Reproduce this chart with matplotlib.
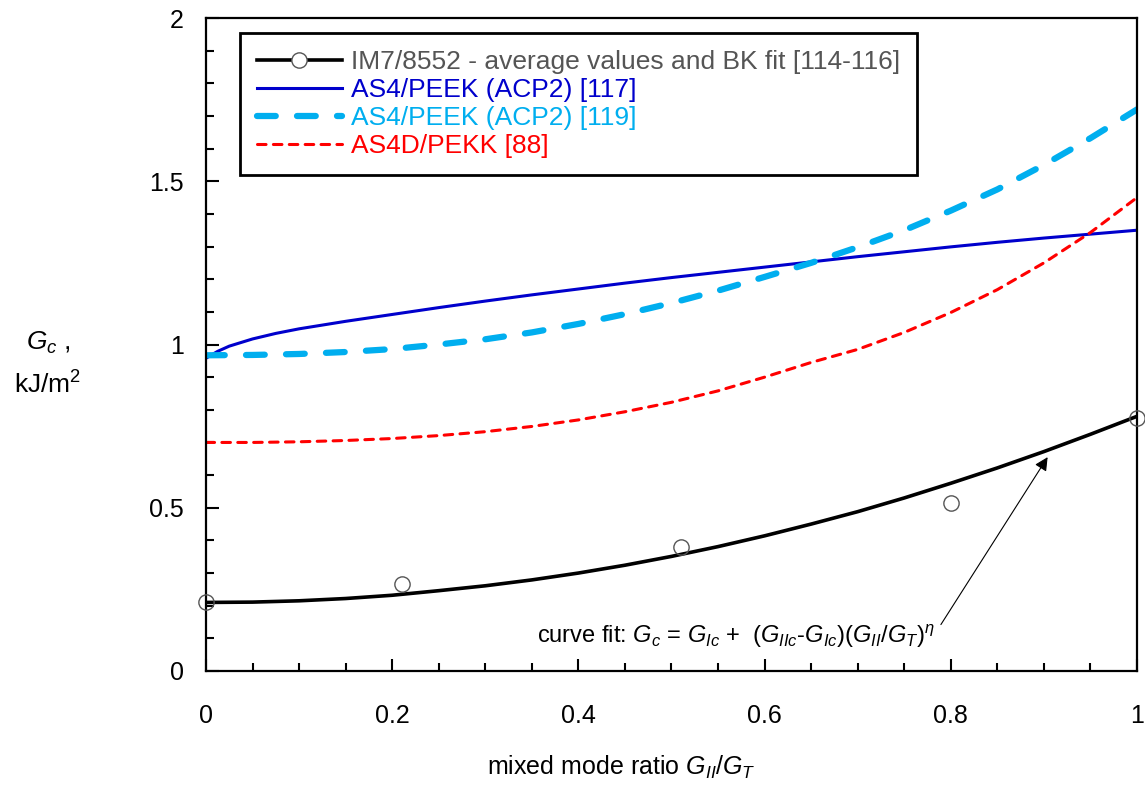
import numpy as np
import matplotlib.pyplot as plt
from matplotlib.ticker import MultipleLocator
from matplotlib.lines import Line2D

plt.rcParams['font.family'] = ['Liberation Sans', 'DejaVu Sans']
plt.rcParams['mathtext.fontset'] = 'custom'
plt.rcParams['mathtext.rm'] = 'Liberation Sans'
plt.rcParams['mathtext.it'] = 'Liberation Sans:italic'

# mixed mode ratio GII/GT
x = np.arange(0, 1.0001, 0.05)

# IM7/8552 BK fit curve and averaged test points
im7_fit = [0.21, 0.211, 0.215, 0.222, 0.232, 0.246, 0.261, 0.279, 0.300, 0.324,
           0.351, 0.381, 0.414, 0.450, 0.488, 0.530, 0.575, 0.622, 0.672, 0.725, 0.78]
im7_x = [0.0, 0.21, 0.51, 0.80, 1.0]
im7_pts = [0.21, 0.265, 0.38, 0.515, 0.775]

blue_x = [0.0, 0.0125, 0.025, 0.05, 0.075, 0.1, 0.15, 0.2, 0.25, 0.3, 0.35, 0.4, 0.45,
          0.5, 0.55, 0.6, 0.65, 0.7, 0.75, 0.8, 0.85, 0.9, 0.95, 1.0]
as4_117 = [0.958, 0.979, 0.995, 1.017, 1.034, 1.048, 1.071, 1.092, 1.113, 1.133, 1.152,
           1.17, 1.188, 1.205, 1.221, 1.237, 1.253, 1.269, 1.284, 1.299, 1.313, 1.326,
           1.338, 1.35]
as4_119 = [0.967, 0.968, 0.971, 0.977, 0.986, 1.0, 1.016, 1.037, 1.063, 1.093,
           1.127, 1.165, 1.207, 1.25, 1.298, 1.35, 1.41, 1.475, 1.55, 1.632, 1.72]
as4d_88 = [0.70, 0.70, 0.702, 0.706, 0.712, 0.721, 0.733, 0.749, 0.769, 0.794,
           0.823, 0.858, 0.9, 0.945, 0.985, 1.037, 1.098, 1.168, 1.25, 1.343, 1.45]

labels = ["IM7/8552 - average values and BK fit [114-116]",
          "AS4/PEEK (ACP2) [117]",
          "AS4/PEEK (ACP2) [119]",
          "AS4D/PEKK [88]"]
text_colors = ["#555555", "#0000cc", "#00aeef", "#ff0000"]

fig = plt.figure(figsize=(11.45, 7.86), dpi=100)
ax = fig.add_axes([206/1145, 1 - 671/786, 931/1145, 653/786])

ax.plot(x, im7_fit, color="black", lw=2.6)
ax.plot(im7_x, im7_pts, ls="none", marker="o", ms=11, mfc="none",
        mec="#555555", mew=1.0, clip_on=False, zorder=5)
ax.plot(blue_x, as4_117, color="#0000cc", lw=2.2)
ax.plot(x, as4_119, color="#00aeef", lw=4.5, dashes=(3.0, 3.4),
        dash_capstyle="round")
ax.plot(x, as4d_88, color="#ff0000", lw=2.2, dashes=(2.8, 2.4),
        dash_capstyle="round")

ax.set_xlim(0, 1)
ax.set_ylim(0, 2)
ax.xaxis.set_major_locator(MultipleLocator(0.2))
ax.xaxis.set_minor_locator(MultipleLocator(0.05))
ax.yaxis.set_major_locator(MultipleLocator(0.5))
ax.yaxis.set_minor_locator(MultipleLocator(0.1))
ax.xaxis.set_major_formatter(plt.FuncFormatter(lambda v, p: f"{v:g}"))
ax.yaxis.set_major_formatter(plt.FuncFormatter(lambda v, p: f"{v:g}"))
ax.tick_params(which="both", direction="in", width=1.5, labelsize=18,
               top=False, right=False)
ax.tick_params(which="major", length=9)
ax.tick_params(which="minor", length=6)
ax.tick_params(axis="x", pad=24)
ax.tick_params(axis="y", pad=16)
for s in ax.spines.values():
    s.set_linewidth(1.6)

handles = [
    Line2D([], [], color="black", lw=2.6, marker="o", ms=11,
           mfc="white", mec="#555555", mew=1.0),
    Line2D([], [], color="#0000cc", lw=2.2),
    Line2D([], [], color="#00aeef", lw=4.5, dashes=(3.0, 3.4), dash_capstyle="round"),
    Line2D([], [], color="#ff0000", lw=2.2, dashes=(2.8, 2.4), dash_capstyle="round"),
]
leg = ax.legend(handles, labels, loc="upper left", bbox_to_anchor=(0.0365, 0.977),
                borderaxespad=0, fontsize=19, handlelength=3.2, handletextpad=0.35,
                labelspacing=0.15, fancybox=False, framealpha=1,
                edgecolor="black", borderpad=0.65, labelcolor=text_colors)
leg.get_frame().set_linewidth(2)

ax.annotate(r"curve fit: $G_{c}$ = $G_{Ic}$ +  ($G_{IIc}$-$G_{Ic}$)($G_{II}$/$G_{T}$)$^{\eta}$",
            xy=(0.904, 0.655), xytext=(0.356, 0.086), fontsize=17,
            arrowprops=dict(arrowstyle="-|>", color="black", lw=0.8,
                            mutation_scale=20, shrinkA=4, shrinkB=0,
                            relpos=(1.0, 0.6)))

fig.text(48/1145, 1 - 343/786, r"$G_{c}$ ,", fontsize=19, ha="center", va="center")
fig.text(48/1145, 1 - 385/786, r"kJ/m$^2$", fontsize=19, ha="center", va="center")
fig.text(621/1145, 1 - 767/786, r"mixed mode ratio $G_{II}$/$G_{T}$", fontsize=18,
         ha="center", va="center")

fig.savefig("out.png", dpi=100)
